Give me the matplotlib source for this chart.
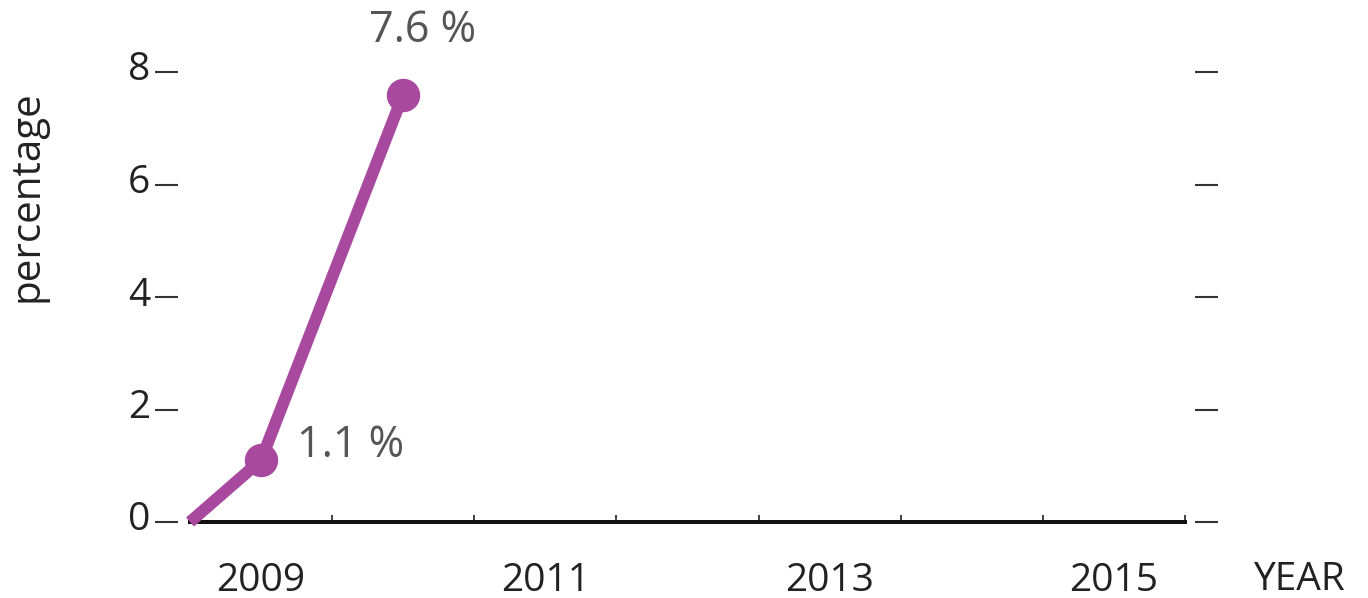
import matplotlib
matplotlib.use("Agg")
import matplotlib.pyplot as plt
from matplotlib.ticker import FixedLocator, NullFormatter
from matplotlib.transforms import ScaledTranslation

plt.rcParams['font.family'] = ['Open Sans', 'DejaVu Sans']

# Series: share (%) by year
years = [2008.5, 2009, 2010]
share = [0.0, 1.1, 7.6]
labelled = [(2009, 1.1), (2010, 7.6)]

year_labels = [2009, 2011, 2013, 2015]
year_bounds = [2008.5, 2009.5, 2010.5, 2011.5, 2012.5, 2013.5, 2014.5, 2015.5]
y_ticks = [0, 2, 4, 6, 8]

line_color = '#a8489e'
PX = 72 / 100  # points per pixel at 100 dpi
W, H = 1368, 598
fig = plt.figure(figsize=(W / 100, H / 100), dpi=100)
ax = fig.add_axes([190 / W, 1 - 522 / H, (1185 - 190) / W, (522 - 72) / H])

ax.plot(years, share, color=line_color, lw=12 * PX, solid_capstyle='butt', clip_on=False, zorder=3)
ax.plot([p[0] for p in labelled], [p[1] for p in labelled], 'o', ms=32 * PX,
        color=line_color, clip_on=False, zorder=4)

ax.annotate('1.1 %', xy=(2009, 1.1), xytext=(36 * PX, 14 * PX), textcoords='offset points',
            fontsize=31, color='#555555', va='center', ha='left')
ax.annotate('7.6 %', xy=(2010, 7.6), xytext=(19 * PX, 64 * PX), textcoords='offset points',
            fontsize=31, color='#555555', va='center', ha='center')

ax.set_xlim(2008.5, 2015.5)
ax.set_ylim(0, 8)

# bottom axis with small inward boundary ticks and centered year labels
ax.xaxis.set_major_locator(FixedLocator(year_bounds))
ax.xaxis.set_major_formatter(NullFormatter())
ax.xaxis.set_minor_locator(FixedLocator(year_labels))
ax.set_xticklabels([str(y) for y in year_labels], minor=True)
ax.tick_params(axis='x', which='major', direction='in', length=7 * PX, width=1.2, color='#222222')
ax.tick_params(axis='x', which='minor', length=0, pad=40 * PX, labelsize=28, labelcolor='#222222')

# y ticks drawn as detached dashes on both sides
ax.set_yticks(y_ticks)
ax.set_yticklabels([str(v) for v in y_ticks])
ax.spines['left'].set_position(('outward', 12 * PX))
ax.spines['right'].set_position(('outward', 10 * PX))
ax.spines['left'].set_visible(False)
ax.spines['right'].set_visible(False)
ax.spines['top'].set_visible(False)
ax.spines['bottom'].set_linewidth(4 * PX)
ax.spines['bottom'].set_color('#111111')
ax.tick_params(axis='y', which='major', left=True, right=True, direction='out',
               length=23 * PX, width=1.5, color='#333333', pad=5 * PX,
               labelsize=28, labelcolor='#222222')
lift = ScaledTranslation(0, 6 / 100, fig.dpi_scale_trans)
for lbl in ax.get_yticklabels():
    lbl.set_transform(lbl.get_transform() + lift)

fig.text(27 / W, 1 - 196 / H, 'percentage', fontsize=29, color='#222222',
         rotation=90, ha='center', va='center')
fig.text(1299 / W, 1 - 580 / H, 'YEAR', fontsize=28, color='#222222', ha='center', va='center')

fig.savefig('out.png', dpi=100, facecolor='white')
